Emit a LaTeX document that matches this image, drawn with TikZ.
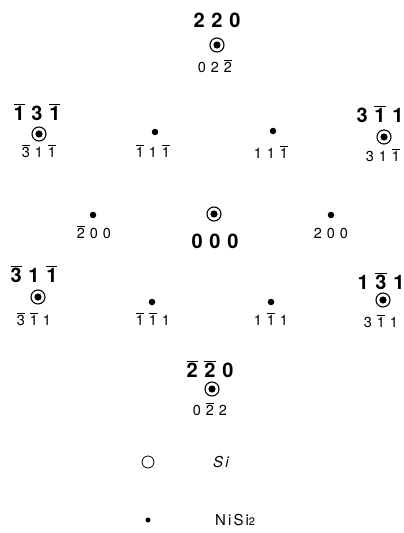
\documentclass[tikz,border=0pt]{standalone}
\usepackage{fontspec}
\setmainfont{TeX Gyre Heros}
\newfontfamily\keyfont[LetterSpace=14]{TeX Gyre Heros}
\newcommand{\nb}[1]{$\overline{\mbox{#1}}$}
\newcommand{\hkl}[3]{#1\kern0.34em#2\kern0.34em#3}

\begin{document}
\begin{tikzpicture}[x=1pt, y=-1pt,
    sispot/.style={circle, draw, line width=1.1pt, minimum size=14pt, inner sep=0pt,
      path picture={\fill (path picture bounding box.center) circle (3.6pt);}},
    nispot/.style={circle, fill, minimum size=6.5pt, inner sep=0pt},
    bigidx/.style={anchor=base, inner sep=0pt, font=\fontsize{20}{24}\selectfont\bfseries},
    smallidx/.style={anchor=base, inner sep=0pt, font=\fontsize{14.5}{17}\selectfont},
    keytext/.style={anchor=base west, inner sep=0pt, font=\fontsize{15}{18}\selectfont\keyfont}
  ]
  \useasboundingbox (0,0) rectangle (404,533);

  % top row
  \node[bigidx] (b220) at (217,27) {\hkl220};
  \node[sispot] (s220) at (217,45) {};
  \node[smallidx] (n022) at (215,72) {\hkl02{\nb2}};

  % upper row
  \node[bigidx] (bTL) at (37,120) {\hkl{\nb1}3{\nb1}};
  \node[sispot] (sTL) at (39,134) {};
  \node[smallidx] (nTL) at (39,157) {\hkl{\nb3}1{\nb1}};
  \node[nispot] (dUL) at (155,132) {};
  \node[smallidx] (lUL) at (153,157) {\hkl{\nb1}1{\nb1}};
  \node[nispot] (dUR) at (273,131) {};
  \node[smallidx] (lUR) at (271,158) {\hkl11{\nb1}};
  \node[bigidx] (bTR) at (380,122) {\hkl3{\nb1}1};
  \node[sispot] (sTR) at (384,137) {};
  \node[smallidx] (nTR) at (383,161) {\hkl31{\nb1}};

  % middle row
  \node[nispot] (dML) at (93,215) {};
  \node[smallidx] (lML) at (94,238) {\hkl{\nb2}00};
  \node[sispot] (s000) at (214,214) {};
  \node[bigidx] (b000) at (215,248) {\hkl000};
  \node[nispot] (dMR) at (331,215) {};
  \node[smallidx] (lMR) at (331,238) {\hkl200};

  % lower row
  \node[bigidx] (bLL) at (34,282) {\hkl{\nb3}1{\nb1}};
  \node[sispot] (sLL) at (38,297) {};
  \node[smallidx] (nLL) at (34,325) {\hkl{\nb3}{\nb1}1};
  \node[nispot] (dLL) at (152,302) {};
  \node[smallidx] (lLL) at (153,325) {\hkl{\nb1}{\nb1}1};
  \node[nispot] (dLR) at (271,302) {};
  \node[smallidx] (lLR) at (271,325) {\hkl1{\nb1}1};
  \node[bigidx] (bLR) at (381,289) {\hkl1{\nb3}1};
  \node[sispot] (sLR) at (383,300) {};
  \node[smallidx] (nLR) at (381,327) {\hkl3{\nb1}1};

  % bottom row
  \node[bigidx] (b2b0) at (210,377) {\hkl{\nb2}{\nb2}0};
  \node[sispot] (s2b0) at (212,389) {};
  \node[smallidx] (n0b2) at (210,415) {\hkl0{\nb2}2};

  % key
  \node[circle, draw, line width=0.8pt, minimum size=12pt, inner sep=0pt] (kSi) at (148,462) {};
  \node[keytext] (tSi) at (213,467) {\itshape Si};
  \node[circle, fill, minimum size=5pt, inner sep=0pt] (kNi) at (148,520) {};
  \node[keytext] (tNi) at (215,525) {NiSi{\fontsize{11}{12}\selectfont 2}};
\end{tikzpicture}
\end{document}
